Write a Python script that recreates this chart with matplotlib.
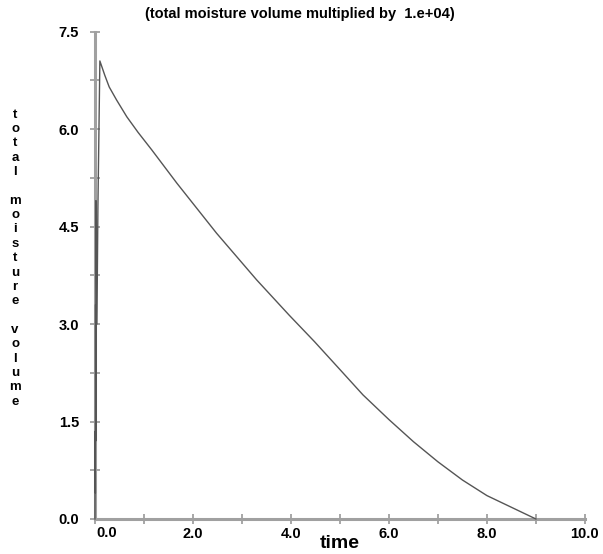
import matplotlib
matplotlib.use("Agg")
import matplotlib.pyplot as plt
from matplotlib.ticker import MultipleLocator, FuncFormatter

plt.rcParams['font.family'] = ['Liberation Sans', 'DejaVu Sans']

# total moisture volume (scaled by 1e4) over time
time = [0.0, 0.004, 0.008, 0.012, 0.016, 0.02, 0.04, 0.06, 0.1,
        0.2, 0.29, 0.44, 0.65, 0.88, 1.16, 1.67, 2.48, 3.3, 3.96,
        4.48, 5.0, 5.47, 6.0, 6.5, 7.0, 7.5, 8.0, 9.0]
volume = [0.0, 1.35, 0.4, 3.3, 1.2, 4.9, 3.0, 4.8, 7.05,
          6.83, 6.65, 6.45, 6.19, 5.95, 5.68, 5.17, 4.40, 3.68, 3.14,
          2.73, 2.30, 1.91, 1.53, 1.19, 0.88, 0.60, 0.36, 0.0]

title = "(total moisture volume multiplied by  1.e+04)"
ylabel = "total moisture volume"
xlabel = "time"

axis_grey = "#a0a0a0"

fig = plt.figure(figsize=(6.03, 5.54), dpi=100)
ax = fig.add_axes([0.1575, 0.0632, 0.8125, 0.8796])

ax.plot(time, volume, color="#555555", lw=1.0, clip_on=False, zorder=3)

ax.set_xlim(0, 10)
ax.set_ylim(0, 7.5)

ax.xaxis.set_major_locator(MultipleLocator(2))
ax.xaxis.set_minor_locator(MultipleLocator(1))
ax.yaxis.set_major_locator(MultipleLocator(1.5))
ax.yaxis.set_minor_locator(MultipleLocator(0.75))
# the 0.0 time label is drawn separately, nudged off the corner
ax.xaxis.set_major_formatter(FuncFormatter(lambda v, p: "" if v == 0 else f"{v:.1f}"))
ax.yaxis.set_major_formatter(FuncFormatter(lambda v, p: f"{v:.1f}"))

for side in ("top", "right"):
    ax.spines[side].set_visible(False)
for side in ("left", "bottom"):
    ax.spines[side].set_color(axis_grey)
    ax.spines[side].set_linewidth(2.2)

ax.tick_params(which="both", direction="inout", length=7, width=1.3,
               color=axis_grey, labelsize=10.5)
ax.tick_params(axis="y", pad=8)
ax.tick_params(axis="x", pad=2)
for lab in ax.get_xticklabels() + ax.get_yticklabels():
    lab.set_fontweight("bold")

ax.annotate("0.0", xy=(0, 0), xycoords="data", xytext=(12, -7),
            textcoords="offset pixels", ha="center", va="top",
            fontsize=10.5, fontweight="bold", annotation_clip=False)

ax.set_xlabel(xlabel, fontsize=14, fontweight="bold", labelpad=-4)

fig.text(0.497, 0.975, title, ha="center", va="center",
         fontsize=10.5, fontweight="bold")

# vertical stacked y label, one letter per line
fig.text(0.025, 0.534, "\n".join(ylabel), ha="center", va="center",
         fontsize=9.5, fontweight="bold", linespacing=1.26)

fig.savefig("out.png", dpi=100)
